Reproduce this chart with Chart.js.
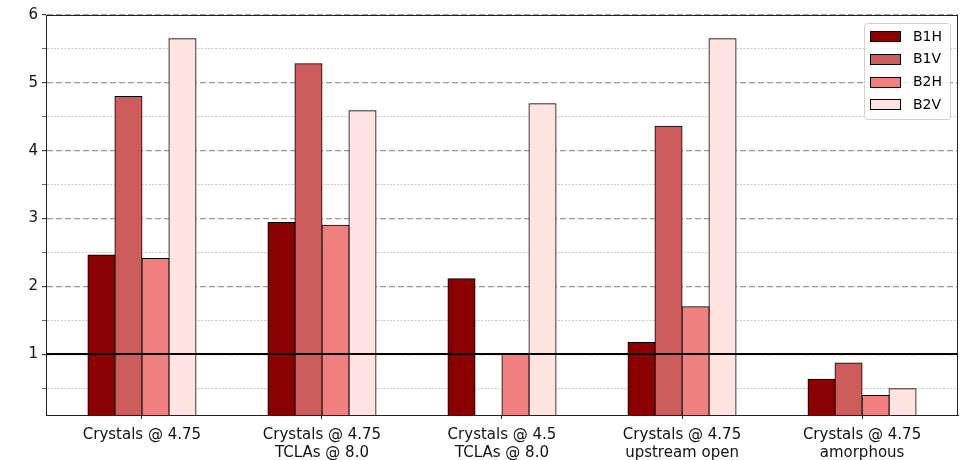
<!DOCTYPE html>
<html>
<head>
<meta charset="utf-8">
<script src="https://cdn.jsdelivr.net/npm/chart.js@4.4.1/dist/chart.umd.min.js"></script>
<style>
  html, body { margin: 0; padding: 0; background: #ffffff; }
  #wrap { position: relative; width: 966px; height: 460px; }
</style>
</head>
<body>
<div id="wrap"><canvas id="chart" width="966" height="460"></canvas></div>
<script>
// Group labels (multi-line) shown under each cluster of bars
const categories = [
  ['Crystals @ 4.75'],
  ['Crystals @ 4.75', 'TCLAs @ 8.0'],
  ['Crystals @ 4.5', 'TCLAs @ 8.0'],
  ['Crystals @ 4.75', 'upstream open'],
  ['Crystals @ 4.75', 'amorphous']
];

// Series values per group
const seriesNames = ['B1H', 'B1V', 'B2H', 'B2V'];
const b1h = [2.46, 2.94, 2.11, 1.17, 0.63];
const b1v = [4.80, 5.28, null, 4.36, 0.87];
const b2h = [2.41, 2.90, 1.00, 1.70, 0.39];
const b2v = [5.65, 4.59, 4.69, 5.65, 0.49];
const seriesColors = ['#8b0000', '#cd5c5c', '#f08080', '#ffe4e1'];

// Y axis ticks: labelled whole numbers plus unlabelled half-steps
const yMajorTicks = [1, 2, 3, 4, 5, 6];
const yMinorTicks = [0.5, 1.5, 2.5, 3.5, 4.5, 5.5];
const referenceLevel = 1;

const FONT = 'DejaVu Sans';

// Borders are centred on each bar edge so neighbouring bars share one outline
const datasets = [b1h, b1v, b2h, b2v].map((vals, s) => ({
  label: seriesNames[s],
  data: vals.map((v, i) => ({ x: i, y: v })),
  backgroundColor: seriesColors[s],
  borderColor: '#000000',
  borderWidth: 1,
  inflateAmount: 0.5,
  borderSkipped: false,
  categoryPercentage: 0.6,
  barPercentage: 1.0
}));

const isMajor = v => yMajorTicks.includes(v);

// Box around the plot, the reference level line and the inset legend
const decorations = {
  id: 'decorations',
  afterDatasetsDraw(chart) {
    const { ctx, chartArea: a, scales } = chart;
    ctx.save();
    // reference level
    const yRef = Math.round(scales.y.getPixelForValue(referenceLevel));
    ctx.strokeStyle = '#000000';
    ctx.lineWidth = 2;
    ctx.beginPath();
    ctx.moveTo(a.left, yRef);
    ctx.lineTo(a.right, yRef);
    ctx.stroke();
    // frame
    ctx.strokeStyle = '#222222';
    ctx.lineWidth = 1;
    ctx.strokeRect(a.left + 0.5, a.top + 0.5, a.right - a.left - 1, a.bottom - a.top);
    ctx.restore();
  },
  afterDraw(chart) {
    const { ctx, chartArea: a } = chart;
    const bx = a.right - 94, by = a.top + 8, bw = 86, bh = 96;
    ctx.save();
    ctx.beginPath();
    if (ctx.roundRect) ctx.roundRect(bx + 0.5, by + 0.5, bw, bh, 3);
    else ctx.rect(bx + 0.5, by + 0.5, bw, bh);
    ctx.fillStyle = 'rgba(255,255,255,0.8)';
    ctx.fill();
    ctx.strokeStyle = '#d0d0d0';
    ctx.lineWidth = 1;
    ctx.stroke();
    ctx.font = '14px "' + FONT + '"';
    ctx.textBaseline = 'middle';
    chart.data.datasets.forEach((ds, i) => {
      const cy = by + 13 + i * 22.8;
      ctx.fillStyle = ds.backgroundColor;
      ctx.fillRect(bx + 6.5, Math.round(cy - 5) + 0.5, 30, 10);
      ctx.strokeStyle = '#000000';
      ctx.lineWidth = 1;
      ctx.strokeRect(bx + 6.5, Math.round(cy - 5) + 0.5, 30, 10);
      ctx.fillStyle = '#000000';
      ctx.fillText(ds.label, bx + 49, cy + 1);
    });
    ctx.restore();
  }
};

new Chart(document.getElementById('chart'), {
  type: 'bar',
  data: { datasets },
  plugins: [decorations],
  options: {
    responsive: false,
    animation: false,
    layout: { padding: { top: 15, right: 8, left: 0, bottom: 0 } },
    plugins: { legend: { display: false }, tooltip: { enabled: false } },
    scales: {
      x: {
        type: 'linear',
        offset: false,
        min: -0.533,
        max: 4.533,
        afterBuildTicks: s => { s.ticks = categories.map((c, i) => ({ value: i })); },
        afterFit: s => { s.height = 45; },
        grid: { offset: false, drawOnChartArea: false, drawTicks: true, tickLength: 4, tickColor: '#222222', tickWidth: 1 },
        border: { display: true, color: '#222222', width: 1 },
        ticks: {
          autoSkip: false,
          maxRotation: 0,
          padding: 7,
          color: '#111111',
          font: { family: FONT, size: 15, lineHeight: 1.2 },
          callback: v => categories[v] || ''
        }
      },
      y: {
        min: 0.103,
        max: 6,
        afterBuildTicks: s => {
          s.ticks = [...yMinorTicks, ...yMajorTicks].sort((p, q) => p - q).map(v => ({ value: v }));
        },
        afterFit: s => { s.width = 46; },
        grid: {
          drawOnChartArea: true,
          drawTicks: true,
          tickLength: 4,
          tickColor: ctx => (ctx.tick && isMajor(ctx.tick.value)) ? '#222222' : '#444444',
          tickWidth: ctx => (ctx.tick && isMajor(ctx.tick.value)) ? 1 : 0.8,
          color: ctx => (ctx.tick && isMajor(ctx.tick.value)) ? '#9a9a9a' : '#bdbdbd',
          lineWidth: ctx => (ctx.tick && isMajor(ctx.tick.value)) ? 1.3 : 0.8
        },
        border: {
          display: true,
          color: '#222222',
          width: 1,
          dash: ctx => ctx.tick ? (isMajor(ctx.tick.value) ? [6, 3] : [2, 1.5]) : []
        },
        ticks: {
          padding: 4,
          color: '#111111',
          font: { family: FONT, size: 15 },
          callback: v => isMajor(v) ? String(v) : ''
        }
      }
    }
  }
});
</script>
</body>
</html>
